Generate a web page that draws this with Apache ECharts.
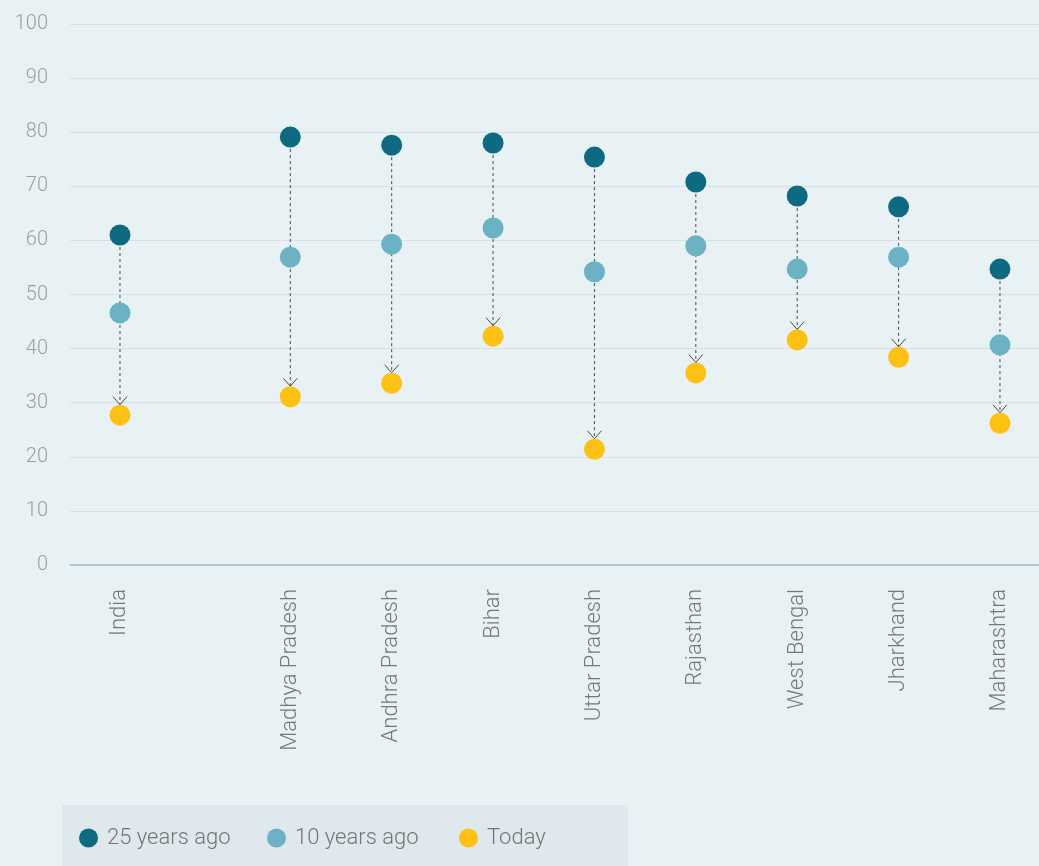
<!DOCTYPE html>
<html>
<head>
<meta charset="utf-8">
<script src="https://cdn.jsdelivr.net/npm/echarts@6/dist/echarts.min.js"></script>
<style>
  html, body { margin: 0; padding: 0; background: #e8f1f4; }
  #chart { width: 1039px; height: 866px; }
</style>
</head>
<body>
<div id="chart"></div>
<script>
var states = ['India', 'Madhya Pradesh', 'Andhra Pradesh', 'Bihar', 'Uttar Pradesh', 'Rajasthan', 'West Bengal', 'Jharkhand', 'Maharashtra']
var ago25 = [61.0, 79.1, 77.6, 78.0, 75.4, 70.8, 68.2, 66.2, 54.7]
var ago10 = [46.6, 56.9, 59.3, 62.3, 54.2, 59.0, 54.7, 56.9, 40.7]
var today = [27.7, 31.1, 33.6, 42.3, 21.4, 35.5, 41.6, 38.4, 26.2]
var yTicks = [0, 10, 20, 30, 40, 50, 60, 70, 80, 90, 100]
var seriesNames = ['25 years ago', '10 years ago', 'Today']

// India stands apart from the states, so shift the rest right a bit
var GAP = 0.68
function xOf(i) { return i === 0 ? 0 : i + GAP }
var xVals = states.map(function (s, i) { return xOf(i) })

var FONT = 'Roboto, "Helvetica Neue", Arial, sans-serif'
var DOT = 21

var chart = echarts.init(document.getElementById('chart'))

function pts(arr) {
  return arr.map(function (v, i) { return [xOf(i), v] })
}

// one legend per item so the spacing can follow the original
var legendLeft = [79, 267, 459]
var legends = seriesNames.map(function (n, i) {
  return {
    left: legendLeft[i],
    top: 827,
    padding: 0,
    itemWidth: 19,
    itemHeight: 19,
    icon: 'circle',
    textStyle: { fontSize: 22, color: '#747474', fontWeight: 300, padding: [0, 0, 0, 4] },
    data: [n]
  }
})

chart.setOption({
  backgroundColor: '#e8f1f4',
  animation: false,
  textStyle: { fontFamily: FONT },
  grid: { left: 70, right: 0, top: 24, bottom: 301 },
  graphic: [{
    type: 'rect',
    left: 62,
    top: 805,
    shape: { width: 566, height: 61 },
    style: { fill: '#dfe9ed' },
    z: -1
  }],
  legend: legends,
  xAxis: {
    type: 'value',
    min: -0.493,
    max: 9.065,
    splitLine: { show: false },
    axisLine: { lineStyle: { color: '#a9bcc4', width: 1.5 } },
    axisTick: { show: false },
    axisLabel: {
      customValues: xVals,
      rotate: 90,
      margin: 24,
      fontSize: 22,
      fontWeight: 300,
      color: '#777777',
      formatter: function (v) {
        var i = xVals.findIndex(function (x) { return Math.abs(x - v) < 1e-6 })
        return i >= 0 ? states[i] : ''
      }
    }
  },
  yAxis: {
    type: 'value',
    min: 0,
    max: 100,
    interval: 10,
    axisLine: { show: false },
    axisTick: { show: false },
    splitLine: { lineStyle: { color: '#d5e1e6', width: 1 } },
    axisLabel: {
      margin: 22,
      fontSize: 20,
      fontWeight: 300,
      color: '#999fa3',
      formatter: function (v) { return yTicks.indexOf(v) >= 0 ? String(v) : '' }
    }
  },
  series: [
    {
      name: 'arrows',
      type: 'custom',
      z: 1,
      silent: true,
      data: states.map(function (s, i) { return [xOf(i), ago25[i], today[i]] }),
      encode: { x: 0, y: [1, 2] },
      renderItem: function (params, api) {
        var top = api.coord([api.value(0), api.value(1)])
        var bot = api.coord([api.value(0), api.value(2)])
        var tipY = bot[1] - DOT / 2
        var x = top[0]
        return {
          type: 'group',
          children: [
            {
              type: 'line',
              shape: { x1: x, y1: top[1], x2: x, y2: tipY },
              style: { stroke: '#4a4a4a', lineWidth: 1, lineDash: [3, 3] }
            },
            {
              type: 'polyline',
              shape: { points: [[x - 7, tipY - 8], [x, tipY], [x + 7, tipY - 8]] },
              style: { stroke: '#4a4a4a', lineWidth: 1, fill: null }
            }
          ]
        }
      }
    },
    {
      name: seriesNames[0],
      type: 'scatter',
      symbolSize: DOT,
      z: 3,
      itemStyle: { color: '#0e6a80', opacity: 1 },
      data: pts(ago25)
    },
    {
      name: seriesNames[1],
      type: 'scatter',
      symbolSize: DOT,
      z: 3,
      itemStyle: { color: '#6db1c4', opacity: 1 },
      data: pts(ago10)
    },
    {
      name: seriesNames[2],
      type: 'scatter',
      symbolSize: DOT,
      z: 3,
      itemStyle: { color: '#fdc113', opacity: 1 },
      data: pts(today)
    }
  ]
})
</script>
</body>
</html>
